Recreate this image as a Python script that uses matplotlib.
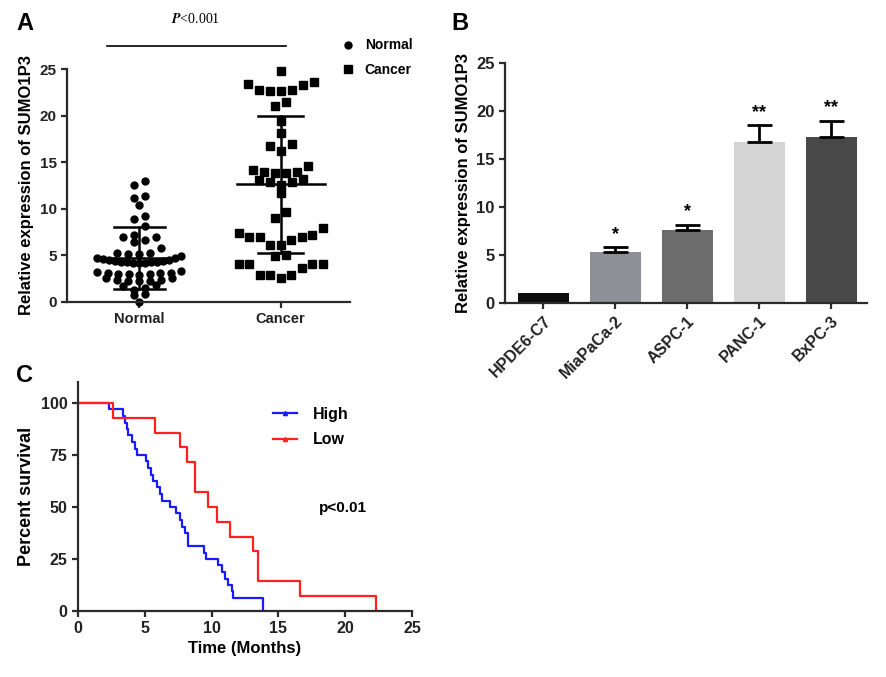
import numpy as np
import matplotlib
matplotlib.use('Agg')
import matplotlib.pyplot as plt
from matplotlib.lines import Line2D

plt.rcParams['font.family'] = ['Liberation Sans', 'DejaVu Sans']
plt.rcParams['font.weight'] = 'bold'
plt.rcParams['axes.labelweight'] = 'bold'
plt.rcParams['mathtext.fontset'] = 'stix'

# Panel A - relative expression in tissues
normal_vals = [13.0, 12.5, 11.4, 11.2, 10.4, 9.2, 8.9, 8.1, 7.2, 7.0, 7.0, 6.7, 6.4, 5.8,
               5.3, 5.3, 5.2, 5.1, 4.9,
               4.7, 4.6, 4.5, 4.4, 4.3, 4.3, 4.2, 4.2, 4.2, 4.3, 4.3, 4.4, 4.5, 4.7,
               3.3, 3.1, 3.0, 3.0, 3.1, 3.2, 3.0, 2.9, 3.1,
               2.6, 2.4, 2.2, 2.3, 2.2, 2.4, 2.6,
               1.8, 1.5, 1.3, 1.7, 0.8, 0.7, 0.0]
cancer_vals = [24.8, 23.4, 23.6, 23.3, 22.8, 22.6, 22.6, 22.8, 21.5, 21.0, 19.4, 18.1, 17.0,
               16.7, 16.2, 14.6, 14.2, 14.0, 13.8, 13.8, 13.9, 13.2, 12.9, 12.9, 12.6, 13.1,
               11.7, 9.7, 9.0, 7.4, 7.0, 6.7, 7.0, 7.0, 7.2, 7.9, 6.1, 6.1, 5.0, 4.9, 4.1,
               4.1, 3.6, 2.9, 2.6, 2.9, 2.9, 4.1, 4.1]
groups_a = ['Normal', 'Cancer']
means_a = [4.7, 12.65]
sds_a = [3.3, 7.35]

# Panel B - cell lines
cell_lines = ['HPDE6-C7', 'MiaPaCa-2', 'ASPC-1', 'PANC-1', 'BxPC-3']
expr_b = [1.0, 5.35, 7.6, 16.75, 17.3]
err_b = [0.0, 0.45, 0.55, 1.75, 1.7]
stars_b = ['', '*', '*', '**', '**']
colors_b = ['#0d0d0d', '#8f8f97', '#6c6c6c', '#d4d4d4', '#484848']

# Panel C - survival (step times in months, percent survival after each step)
t_high = [0, 2.35, 3.39, 3.52, 3.64, 3.77, 4.02, 4.27, 4.39, 5.09, 5.26, 5.46, 5.64, 5.89,
          6.14, 6.31, 6.89, 7.36, 7.63, 7.75, 8.01, 8.26, 9.4, 9.6, 10.5, 10.76, 11.0,
          11.25, 11.5, 11.63, 13.87]
s_high = [100, 96.9, 93.8, 90.6, 87.5, 84.4, 81.3, 78.1, 75.0, 71.9, 68.8, 65.6, 62.5, 59.4,
          56.3, 53.1, 50.0, 46.9, 43.8, 40.6, 37.5, 31.3, 28.1, 25.0, 21.9, 18.8, 15.6,
          12.5, 9.4, 6.3, 0.0]
t_low = [0, 2.64, 5.76, 7.63, 8.13, 8.76, 9.76, 10.38, 11.38, 13.12, 13.5, 16.6, 22.3]
s_low = [100, 92.9, 85.7, 78.6, 71.4, 57.1, 50.0, 42.9, 35.7, 28.6, 14.3, 7.1, 0.0]

axis_col = '#2b2b2b'

# row boundaries for the dot arrangement (layout only)
rows_normal = [-0.5, 0.5, 1.15, 1.95, 2.75, 3.5, 4.15, 5.0, 6.0, 7.1, 8.5, 9.5, 10.8, 12.0, 13.5]
rows_cancer = [2.0, 4.5, 5.5, 8.5, 10.5, 12.3, 13.5, 15.5, 17.5, 18.8, 20.5, 22.0, 24.0, 25.5]


def style_axes(ax, lsize):
    for s in ['top', 'right']:
        ax.spines[s].set_visible(False)
    for s in ['left', 'bottom']:
        ax.spines[s].set_linewidth(1.6)
        ax.spines[s].set_color(axis_col)
    ax.tick_params(width=1.6, length=4, color=axis_col, labelsize=lsize, labelcolor='#222222')


def row_scatter_x(ax, xc, values, edges, max_sp, max_w):
    # graphpad-like rows: bin values, lowest in the middle of each row
    vals = np.asarray(values, dtype=float)
    bins = np.digitize(vals, edges)
    x0 = ax.transData.transform((xc, 0))[0]
    xs = np.zeros(len(vals))
    for b in np.unique(bins):
        r = [i for i in np.argsort(vals, kind='stable') if bins[i] == b]
        n = len(r)
        sp = max_sp if n < 2 else min(max_sp, max_w / (n - 1))
        slots = sorted(range(n), key=lambda j: abs(j - (n - 1) / 2) + 0.01 * j)
        for idx, j in zip(r, slots):
            xs[idx] = x0 + (j - (n - 1) / 2) * sp
    pts = ax.transData.inverted().transform(np.column_stack([xs, np.zeros(len(vals))]))
    return pts[:, 0]


fig = plt.figure(figsize=(8.86, 6.77), dpi=100)

# ---------------- A ----------------
axA = fig.add_axes([0.0756, 0.554, 0.3194, 0.344])
style_axes(axA, 11)
axA.tick_params(axis='x', labelsize=10.5)
axA.set_xlim(-0.51, 1.49)
axA.set_ylim(0, 25)
axA.set_yticks([0, 5, 10, 15, 20, 25])
axA.set_xticks([0, 1])
axA.set_xticklabels(groups_a)
axA.set_ylabel('Relative expression of SUMO1P3', fontsize=12, labelpad=4)

xn = row_scatter_x(axA, 0, normal_vals, rows_normal, 11, 84)
xc = row_scatter_x(axA, 1, cancer_vals, rows_cancer, 11, 84)
axA.plot(xn, normal_vals, 'o', color='black', ms=5, clip_on=False, label='Normal')
axA.plot(xc, cancer_vals, 's', color='black', ms=5.2, clip_on=False, label='Cancer')

mean_half = [0.3, 0.31]
cap_half = [0.18, 0.16]
for i in range(2):
    axA.plot([i - mean_half[i], i + mean_half[i]], [means_a[i]] * 2, color='black', lw=1.8)
    axA.plot([i, i], [means_a[i] - sds_a[i], means_a[i] + sds_a[i]], color='black', lw=1.8)
    for v in [means_a[i] - sds_a[i], means_a[i] + sds_a[i]]:
        axA.plot([i - cap_half[i], i + cap_half[i]], [v, v], color='black', lw=1.8)

axA.plot([-0.23, 1.04], [1.1, 1.1], color='black', lw=1.2, clip_on=False,
         transform=axA.get_xaxis_transform())
axA.text(0.40, 1.215, r'$P$<0.001', transform=axA.get_xaxis_transform(),
         ha='center', va='center', fontsize=10, fontweight='normal', family='Liberation Serif')
axA.legend(loc='upper left', bbox_to_anchor=(0.925, 1.185), frameon=False, fontsize=10,
           handletextpad=0.7, labelspacing=0.75, handlelength=1.0)

# ---------------- B ----------------
axB = fig.add_axes([0.570, 0.5524, 0.4086, 0.3545])
style_axes(axB, 12)
xb = np.arange(len(cell_lines))
axB.bar(xb, expr_b, width=0.71, color=colors_b, edgecolor='none')
axB.errorbar(xb[1:], expr_b[1:], yerr=[np.zeros(len(xb) - 1), err_b[1:]], fmt='none',
             ecolor='black', elinewidth=2, capsize=9, capthick=2)
for i in range(len(xb)):
    if stars_b[i]:
        axB.text(xb[i], expr_b[i] + err_b[i] + 0.45, stars_b[i], ha='center', va='bottom',
                 fontsize=13)
axB.set_xlim(-0.53, 4.5)
axB.set_ylim(0, 25)
axB.set_yticks([0, 5, 10, 15, 20, 25])
axB.set_xticks(xb)
axB.set_xticklabels(cell_lines, rotation=45, ha='right', va='top', rotation_mode='anchor',
                    fontsize=11.5)
axB.set_ylabel('Relative expression of SUMO1P3', fontsize=12, labelpad=4)

# ---------------- C ----------------
axC = fig.add_axes([0.088, 0.0975, 0.377, 0.338])
style_axes(axC, 11.5)
axC.step(t_high + [t_high[-1]], s_high + [s_high[-1]], where='post', color='#1a1aff', lw=1.6)
axC.step(t_low, s_low, where='post', color='#ff2020', lw=1.6)
axC.set_xlim(0, 25)
axC.set_ylim(0, 110)
axC.set_xticks([0, 5, 10, 15, 20, 25])
axC.set_yticks([0, 25, 50, 75, 100])
axC.set_xlabel('Time (Months)', fontsize=12, labelpad=3)
axC.set_ylabel('Percent survival', fontsize=13, labelpad=4)
axC.text(19.8, 49.5, 'p<0.01', ha='center', va='center', fontsize=11)
handles = [Line2D([], [], color='#1a1aff', lw=1.6, marker='^', ms=3),
           Line2D([], [], color='#ff2020', lw=1.6, marker='^', ms=3)]
axC.legend(handles, ['High', 'Low'], loc='upper left', bbox_to_anchor=(0.54, 0.955),
           frameon=False, fontsize=11.5, handlelength=1.5, labelspacing=0.65,
           handletextpad=1.0)

fig.text(0.028, 0.966, 'A', fontsize=17, ha='center', va='center')
fig.text(0.519, 0.966, 'B', fontsize=17, ha='center', va='center')
fig.text(0.028, 0.445, 'C', fontsize=17, ha='center', va='center')

fig.savefig('out.png', dpi=100)
